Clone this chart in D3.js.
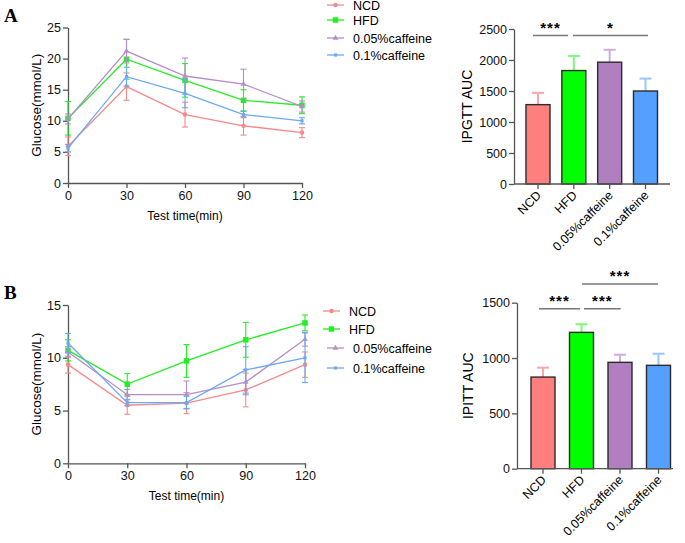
<!DOCTYPE html>
<html>
<head>
<meta charset="utf-8">
<script src="https://cdn.jsdelivr.net/npm/d3@7"></script>
<style>
  body { margin: 0; background: #fff; }
  svg text { font-family: "Liberation Sans", Arial, Helvetica, sans-serif; }
</style>
</head>
<body>
<script>
// ---- data ----
var times = [0, 30, 60, 90, 120];
var groups = ["NCD", "HFD", "0.05%caffeine", "0.1%caffeine"];

// IPGTT glucose (mean, sd)
var gttNCD = [5.9, 15.5, 11.0, 9.2, 8.1];
var gttNCDErr = [1.5, 2.2, 2.0, 1.5, 0.8];
var gttHFD = [10.4, 19.9, 16.5, 13.3, 12.5];
var gttHFDErr = [2.7, 3.2, 2.7, 1.7, 1.35];
var gttC005 = [10.3, 21.2, 17.2, 15.9, 12.3];
var gttC005Err = [0.8, 1.9, 2.9, 2.4, 0.9];
var gttC01 = [5.6, 17.1, 14.4, 11.0, 10.0];
var gttC01Err = [0.6, 1.5, 2.3, 0.5, 0.5];

// IPITT glucose (mean, sd)
var ittNCD = [9.35, 5.5, 5.7, 6.95, 9.35];
var ittNCDErr = [0.8, 0.85, 1.0, 1.6, 1.2];
var ittHFD = [10.7, 7.5, 9.7, 11.7, 13.3];
var ittHFDErr = [1.0, 1.0, 1.55, 1.65, 0.75];
var ittC005 = [10.55, 6.5, 6.5, 7.7, 11.75];
var ittC005Err = [0.5, 0.5, 1.3, 1.2, 0.65];
var ittC01 = [11.4, 5.75, 5.75, 8.85, 10.0];
var ittC01Err = [0.9, 0.3, 0.6, 2.2, 2.35];

// AUC bars
var gttAuc = [1280, 1830, 1965, 1500];
var gttAucErr = [190, 235, 200, 200];
var ittAuc = [828, 1232, 961, 934];
var ittAucErr = [85, 73, 69, 105];

// tick labels
var gttTicks = [0, 5, 10, 15, 20, 25];
var ittTicks = [0, 5, 10, 15];
var gttAucTicks = [0, 500, 1000, 1500, 2000, 2500];
var ittAucTicks = [0, 500, 1000, 1500];

// ---- styles ----
var fontSans = "'Liberation Sans', Arial, Helvetica, sans-serif";
var lineCols = ["#f58a8c", "#22ee22", "#b68dcc", "#6aa9f4"];
var barCols = ["#ff7f7f", "#00ff00", "#af7fbf", "#559fff"];
var barErrCols = ["#f7a7a8", "#7cf87c", "#cfacdc", "#99c6ff"];
var symbols = [
    {type: d3.symbolCircle, size: 16},
    {type: d3.symbolSquare, size: 30},
    {type: d3.symbolTriangle, size: 14},
    {type: d3.symbolSquare, size: 10}
];
var axisCol = "#555";

var svg = d3.select("body").append("svg")
    .attr("width", 685)
    .attr("height", 543)
    .attr("font-family", fontSans);

function styleAxis(g, fs) {
    g.attr("font-family", fontSans);
    g.selectAll("path, line").attr("stroke", axisCol).attr("stroke-width", 1.3);
    g.selectAll("text").attr("fill", "#111").style("font-size", fs + "px");
}

function lineChart(opt) {
    var x = d3.scaleLinear().domain([0, 120]).range(opt.xr);
    var y = d3.scaleLinear().domain(opt.yd).range(opt.yr);

    var xa = svg.append("g")
        .attr("transform", "translate(0," + opt.yr[0] + ")")
        .call(d3.axisBottom(x).tickValues(times).tickSize(5).tickSizeOuter(0).tickPadding(3));
    styleAxis(xa, 12.5);
    var ya = svg.append("g")
        .attr("transform", "translate(" + opt.xr[0] + ",0)")
        .call(d3.axisLeft(y).tickValues(opt.ticks).tickSize(5).tickSizeOuter(0).tickPadding(2));
    styleAxis(ya, 12.5);

    svg.append("text")
        .attr("x", (opt.xr[0] + opt.xr[1]) / 2)
        .attr("y", opt.yr[0] + 37)
        .attr("text-anchor", "middle")
        .style("font-size", "12px")
        .text("Test time(min)");
    svg.append("text")
        .attr("transform", "translate(" + (opt.xr[0] - 27) + "," + ((opt.yr[0] + opt.yr[1]) / 2) + ") rotate(-90)")
        .attr("text-anchor", "middle")
        .style("font-size", "13.5px")
        .text("Glucose(mmol/L)");

    var line = d3.line().x(function(d, i) { return x(times[i]); }).y(function(d) { return y(d); });

    opt.series.forEach(function(s, k) {
        var g = svg.append("g");
        // error bars
        s.mean.forEach(function(m, i) {
            var cx = x(times[i]), e = s.err[i];
            g.append("line").attr("x1", cx).attr("x2", cx)
                .attr("y1", y(m - e)).attr("y2", y(m + e))
                .attr("stroke", lineCols[k]).attr("stroke-width", 1.1);
            [m - e, m + e].forEach(function(v) {
                g.append("line").attr("x1", cx - 3).attr("x2", cx + 3)
                    .attr("y1", y(v)).attr("y2", y(v))
                    .attr("stroke", lineCols[k]).attr("stroke-width", 1.1);
            });
        });
        g.append("path").datum(s.mean)
            .attr("d", line)
            .attr("fill", "none")
            .attr("stroke", lineCols[k])
            .attr("stroke-width", 1.3);
        g.selectAll("path.pt").data(s.mean).enter().append("path")
            .attr("class", "pt")
            .attr("transform", function(d, i) { return "translate(" + x(times[i]) + "," + y(d) + ")"; })
            .attr("d", d3.symbol().type(symbols[k].type).size(symbols[k].size))
            .attr("fill", lineCols[k]);
    });

    // legend
    opt.legend.forEach(function(L, k) {
        var g = svg.append("g");
        g.append("line").attr("x1", L.x0).attr("x2", L.x0 + 17)
            .attr("y1", L.y).attr("y2", L.y)
            .attr("stroke", lineCols[k]).attr("stroke-width", 1.3);
        g.append("path")
            .attr("transform", "translate(" + (L.x0 + 8.5) + "," + L.y + ")")
            .attr("d", d3.symbol().type(symbols[k].type).size(symbols[k].size))
            .attr("fill", lineCols[k]);
        g.append("text").attr("x", L.x0 + 26).attr("y", L.y + 4.5)
            .style("font-size", "12.5px")
            .text(groups[k]);
    });
}

function barChart(opt) {
    var x = d3.scalePoint().domain(groups).range(opt.xr);
    var y = d3.scaleLinear().domain(opt.yd).range(opt.yr);
    var bw = 24;

    // error bars (upper only)
    opt.vals.forEach(function(v, i) {
        var cx = x(groups[i]), top = y(v + opt.errs[i]);
        svg.append("line").attr("x1", cx).attr("x2", cx)
            .attr("y1", y(v)).attr("y2", top)
            .attr("stroke", barErrCols[i]).attr("stroke-width", 2);
        svg.append("line").attr("x1", cx - 6).attr("x2", cx + 6)
            .attr("y1", top).attr("y2", top)
            .attr("stroke", barErrCols[i]).attr("stroke-width", 2);
    });

    svg.selectAll(null).data(opt.vals).enter().append("rect")
        .attr("x", function(d, i) { return x(groups[i]) - bw / 2; })
        .attr("y", function(d) { return y(d); })
        .attr("width", bw)
        .attr("height", function(d) { return y(0) - y(d); })
        .attr("fill", function(d, i) { return barCols[i]; })
        .attr("stroke", "#2b2b2b")
        .attr("stroke-width", 1.4);

    var ya = svg.append("g")
        .attr("transform", "translate(" + opt.ax + ",0)")
        .call(d3.axisLeft(y).tickValues(opt.ticks).tickFormat(d3.format("d"))
            .tickSize(5).tickSizeOuter(0).tickPadding(2));
    styleAxis(ya, 12.5);

    svg.append("line").attr("x1", opt.ax).attr("x2", opt.axEnd)
        .attr("y1", y(0)).attr("y2", y(0))
        .attr("stroke", axisCol).attr("stroke-width", 1.3);

    groups.forEach(function(gname) {
        var cx = x(gname);
        svg.append("line").attr("x1", cx).attr("x2", cx)
            .attr("y1", y(0)).attr("y2", y(0) + 5)
            .attr("stroke", axisCol).attr("stroke-width", 1.3);
        svg.append("text")
            .attr("transform", "translate(" + (cx + 4) + "," + (y(0) + 12) + ") rotate(-45)")
            .attr("text-anchor", "end")
            .style("font-size", "12.5px")
            .text(gname);
    });

    svg.append("text")
        .attr("transform", "translate(" + opt.labX + "," + ((opt.yr[0] + opt.yr[1]) / 2) + ") rotate(-90)")
        .attr("text-anchor", "middle")
        .style("font-size", "14px")
        .text(opt.label);

    opt.sig.forEach(function(s) {
        svg.append("line").attr("x1", s.x1).attr("x2", s.x2)
            .attr("y1", s.y).attr("y2", s.y)
            .attr("stroke", "#777").attr("stroke-width", 1.6);
        svg.append("text")
            .attr("x", (s.x1 + s.x2) / 2).attr("y", s.y - 3)
            .attr("text-anchor", "middle")
            .style("font-size", "15px")
            .style("font-weight", "bold")
            .style("letter-spacing", "1px")
            .text(s.t);
    });
}

// panel letters
svg.append("text").attr("x", 4).attr("y", 22)
    .style("font-family", "'Liberation Serif', 'Times New Roman', serif")
    .style("font-weight", "bold").style("font-size", "19px").text("A");
svg.append("text").attr("x", 4).attr("y", 299)
    .style("font-family", "'Liberation Serif', 'Times New Roman', serif")
    .style("font-weight", "bold").style("font-size", "19px").text("B");

lineChart({
    xr: [68, 302], yd: [0, 25], yr: [183, 27.5], ticks: gttTicks,
    series: [
        {mean: gttNCD, err: gttNCDErr},
        {mean: gttHFD, err: gttHFDErr},
        {mean: gttC005, err: gttC005Err},
        {mean: gttC01, err: gttC01Err}
    ],
    legend: [{x0: 327, y: 5}, {x0: 327, y: 20}, {x0: 327, y: 38}, {x0: 327, y: 55}]
});

lineChart({
    xr: [68, 305], yd: [0, 15], yr: [463.3, 305], ticks: ittTicks,
    series: [
        {mean: ittNCD, err: ittNCDErr},
        {mean: ittHFD, err: ittHFDErr},
        {mean: ittC005, err: ittC005Err},
        {mean: ittC01, err: ittC01Err}
    ],
    legend: [{x0: 323, y: 311}, {x0: 323, y: 329}, {x0: 327, y: 348}, {x0: 327, y: 368}]
});

barChart({
    xr: [538, 645.5], yd: [0, 2500], yr: [184, 29], ticks: gttAucTicks,
    vals: gttAuc, errs: gttAucErr, ax: 514, axEnd: 670, labX: 472,
    label: "IPGTT AUC",
    sig: [{x1: 533, x2: 568, y: 35.5, t: "***"}, {x1: 573, x2: 648, y: 35.5, t: "*"}]
});

barChart({
    xr: [543, 658.5], yd: [0, 1500], yr: [468.7, 302.7], ticks: ittAucTicks,
    vals: ittAuc, errs: ittAucErr, ax: 517, axEnd: 673, labX: 473,
    label: "IPITT AUC",
    sig: [{x1: 539, x2: 580, y: 308.7, t: "***"}, {x1: 584, x2: 620.7, y: 308.7, t: "***"},
          {x1: 582, x2: 658, y: 284, t: "***"}]
});
</script>
</body>
</html>
